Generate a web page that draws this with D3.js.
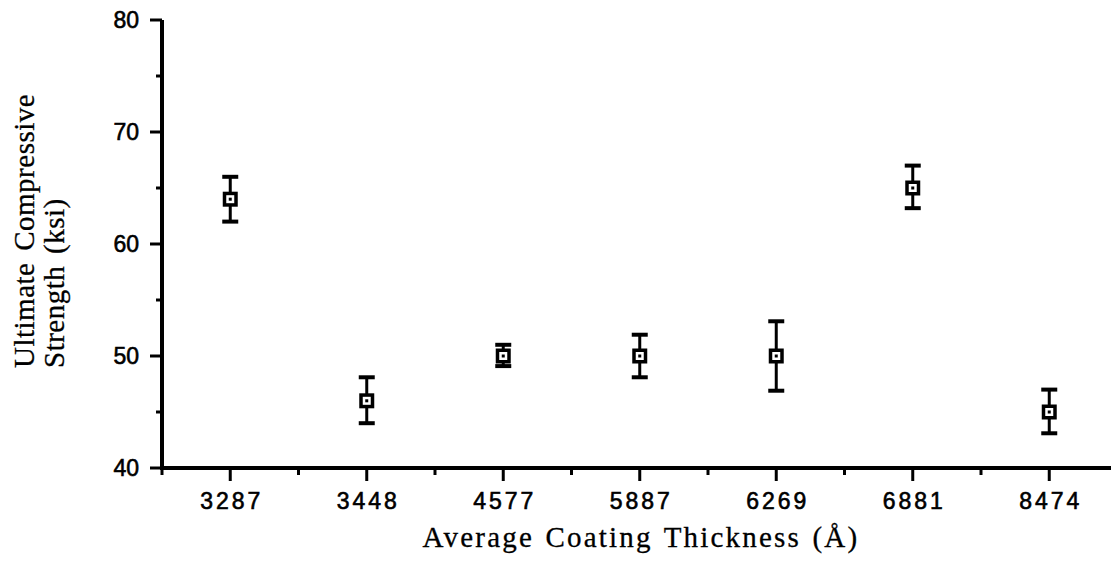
<!DOCTYPE html>
<html>
<head>
<meta charset="utf-8">
<script src="https://cdnjs.cloudflare.com/ajax/libs/d3/7.8.5/d3.min.js"></script>
<style>
  body { margin: 0; background: white; }
  svg { display: block; }
</style>
</head>
<body>
<script>
// data
var thickness = ["3287", "3448", "4577", "5887", "6269", "6881", "8474"];
var strength = [64, 46, 50, 50, 50, 65, 45];
var errUp = [66, 48.1, 51, 51.9, 53.1, 67, 47];
var errDown = [62, 44, 49.1, 48.1, 46.9, 63.2, 43.1];
var yMajor = [40, 50, 60, 70, 80];
var yMinor = [45, 55, 65, 75];

var width = 1111, height = 563;
var plotLeft = 162, plotTop = 20, plotBottom = 468;
var step = 136.5;

var svg = d3.select("body").append("svg")
    .attr("width", width)
    .attr("height", height);

var x = d3.scalePoint()
    .domain(thickness)
    .range([plotLeft, plotLeft + step * thickness.length])
    .padding(0.5);

var y = d3.scaleLinear()
    .domain([40, 80])
    .range([plotBottom, plotTop]);

var tickFont = "Liberation Sans, Arial, Helvetica, sans-serif";
var serif = "Liberation Serif, Times New Roman, Times, serif";

//-- axes --\\
svg.append("line")
    .attr("x1", plotLeft).attr("x2", plotLeft)
    .attr("y1", plotTop).attr("y2", plotBottom + 2)
    .attr("stroke", "black").attr("stroke-width", 4);

svg.append("line")
    .attr("x1", plotLeft - 2).attr("x2", width)
    .attr("y1", plotBottom).attr("y2", plotBottom)
    .attr("stroke", "black").attr("stroke-width", 4);

// y ticks
svg.selectAll(".ymaj").data(yMajor).enter().append("line")
    .attr("x1", plotLeft - 12).attr("x2", plotLeft)
    .attr("y1", function (d) { return y(d); })
    .attr("y2", function (d) { return y(d); })
    .attr("stroke", "black").attr("stroke-width", 3);

svg.selectAll(".ymin").data(yMinor).enter().append("line")
    .attr("x1", plotLeft - 6).attr("x2", plotLeft)
    .attr("y1", function (d) { return y(d); })
    .attr("y2", function (d) { return y(d); })
    .attr("stroke", "black").attr("stroke-width", 3);

svg.selectAll(".ylab").data(yMajor).enter().append("text")
    .attr("x", plotLeft - 23)
    .attr("y", function (d) { return y(d); })
    .attr("dy", "0.36em")
    .attr("text-anchor", "end")
    .attr("font-family", tickFont)
    .attr("font-size", 23)
    .attr("stroke", "black").attr("stroke-width", 0.6)
    .text(function (d) { return d; });

// x ticks
svg.selectAll(".xmaj").data(thickness).enter().append("line")
    .attr("x1", function (d) { return x(d); })
    .attr("x2", function (d) { return x(d); })
    .attr("y1", plotBottom).attr("y2", plotBottom + 13)
    .attr("stroke", "black").attr("stroke-width", 3);

var bounds = d3.range(thickness.length + 1).map(function (i) { return plotLeft + i * x.step(); });
svg.selectAll(".xmin").data(bounds).enter().append("line")
    .attr("x1", function (d) { return d; })
    .attr("x2", function (d) { return d; })
    .attr("y1", plotBottom).attr("y2", plotBottom + 7)
    .attr("stroke", "black").attr("stroke-width", 3);

svg.selectAll(".xlab").data(thickness).enter().append("text")
    .attr("x", function (d) { return x(d) + 1.5; })
    .attr("y", 509)
    .attr("text-anchor", "middle")
    .attr("font-family", tickFont)
    .attr("font-size", 23)
    .attr("letter-spacing", 3)
    .attr("stroke", "black").attr("stroke-width", 0.6)
    .text(function (d) { return d; });

//-- titles --\\
svg.append("text")
    .attr("x", 641).attr("y", 547)
    .attr("text-anchor", "middle")
    .attr("font-family", serif)
    .attr("font-size", 29)
    .attr("letter-spacing", 2.2)
    .attr("word-spacing", 2)
    .attr("stroke", "black").attr("stroke-width", 0.3)
    .text("Average Coating Thickness (Å)");

var yt = svg.append("text")
    .attr("transform", "translate(34,368) rotate(-90)")
    .attr("font-family", serif)
    .attr("font-size", 29)
    .attr("letter-spacing", 0.5)
    .attr("word-spacing", 4)
    .attr("stroke", "black").attr("stroke-width", 0.3);
yt.append("tspan").attr("x", 0).attr("y", 0).text("Ultimate Compressive");
yt.append("tspan").attr("x", 0).attr("y", 30).text("Strength (ksi)");

//-- error bars and markers --\\
var pts = svg.selectAll(".pt").data(thickness).enter().append("g");

pts.append("line")
    .attr("x1", function (d) { return x(d); })
    .attr("x2", function (d) { return x(d); })
    .attr("y1", function (d, i) { return y(errUp[i]); })
    .attr("y2", function (d, i) { return y(errDown[i]); })
    .attr("stroke", "black").attr("stroke-width", 3);

[errUp, errDown].forEach(function (arr) {
    pts.append("line")
        .attr("x1", function (d) { return x(d) - 8; })
        .attr("x2", function (d) { return x(d) + 8; })
        .attr("y1", function (d, i) { return y(arr[i]); })
        .attr("y2", function (d, i) { return y(arr[i]); })
        .attr("stroke", "black").attr("stroke-width", 4);
});

pts.append("rect")
    .attr("x", function (d) { return x(d) - 7.5; })
    .attr("y", function (d, i) { return y(strength[i]) - 7.5; })
    .attr("width", 15).attr("height", 15)
    .attr("fill", "black");

pts.append("rect")
    .attr("x", function (d) { return x(d) - 4; })
    .attr("y", function (d, i) { return y(strength[i]) - 4; })
    .attr("width", 8).attr("height", 8)
    .attr("fill", "white");

pts.append("rect")
    .attr("x", function (d) { return x(d) - 1.5; })
    .attr("y", function (d, i) { return y(strength[i]) - 1.5; })
    .attr("width", 3).attr("height", 3)
    .attr("fill", "black");
</script>
</body>
</html>
